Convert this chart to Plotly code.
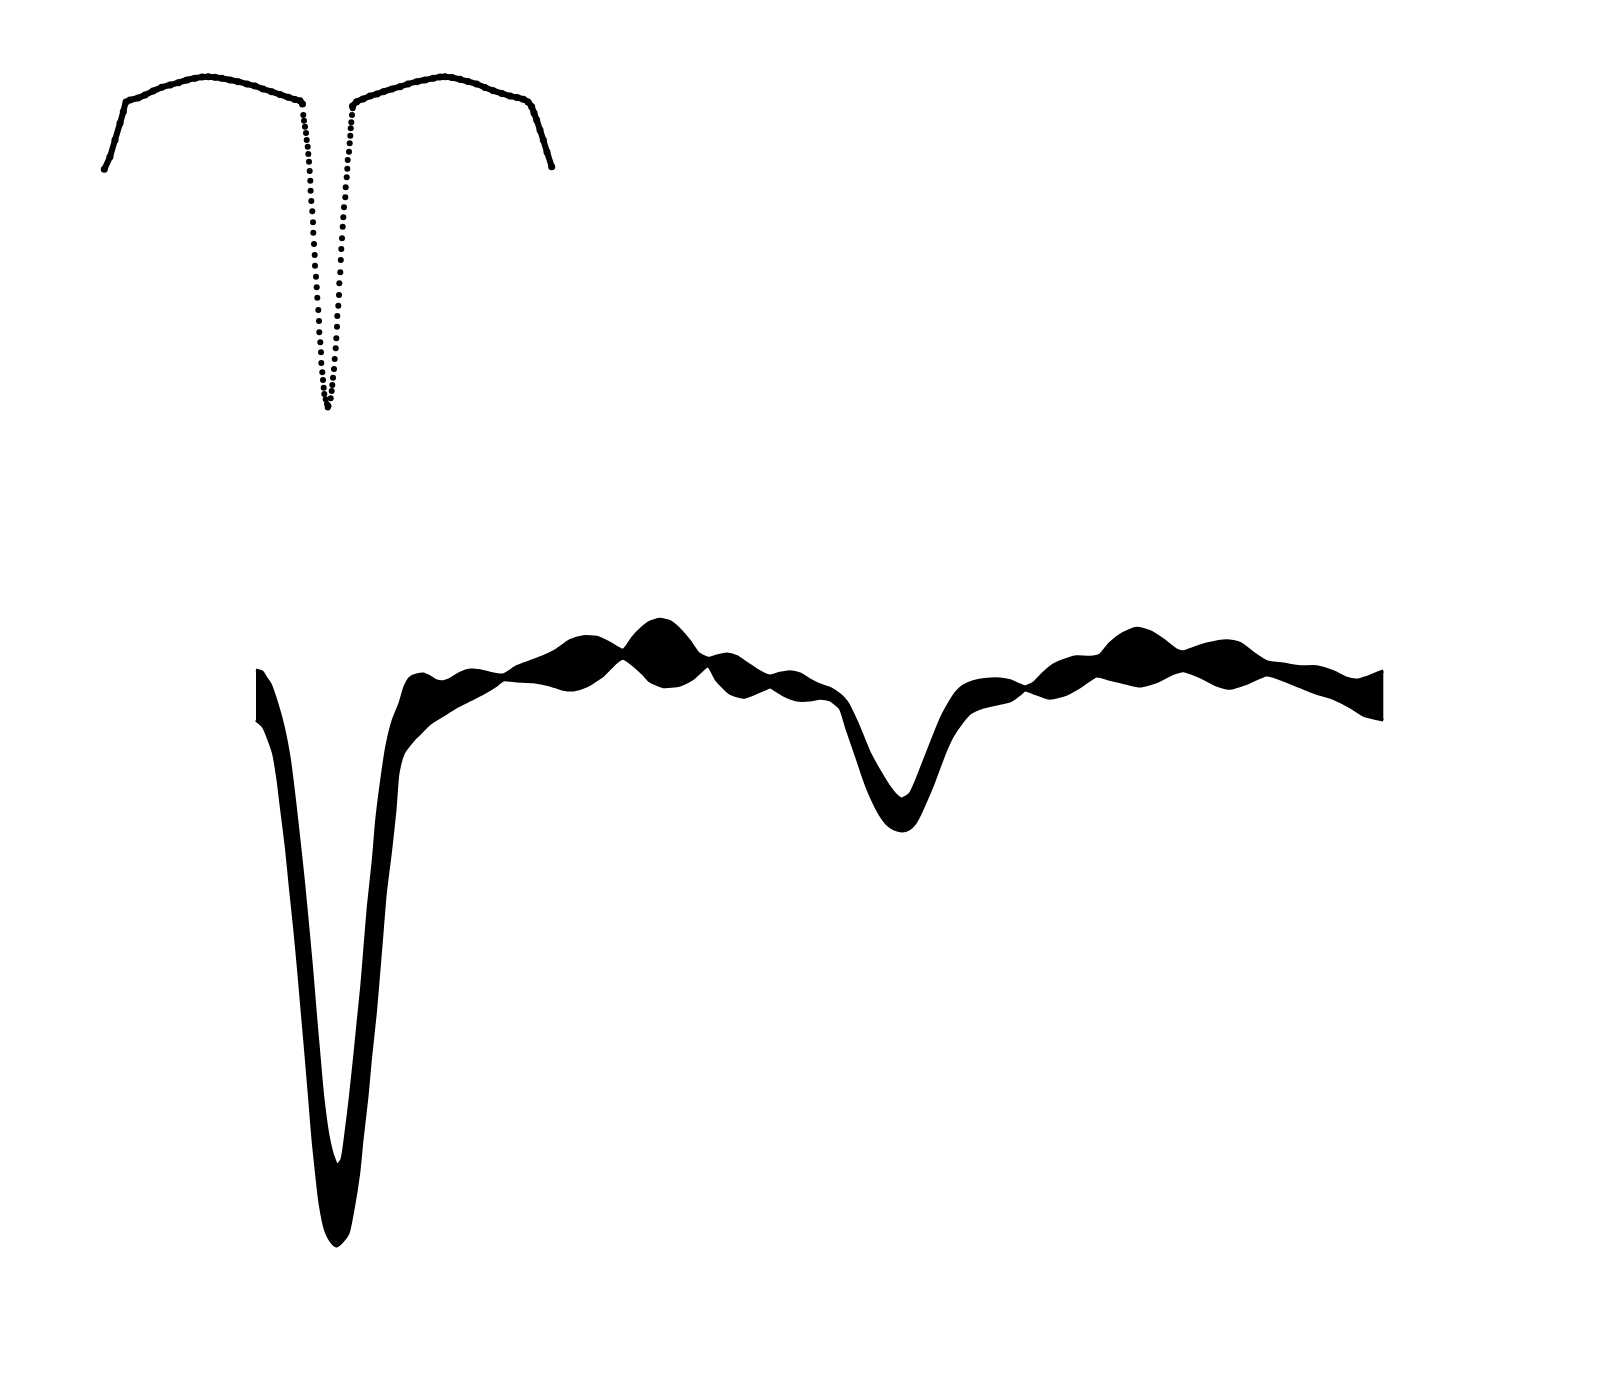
import plotly.graph_objects as go

# ---------------- top chart: arcs (dense points, drawn as thick line + beads) ----------------
left_arc_x = [104.3, 110, 115, 120, 123.3, 126, 130, 138, 145, 153, 161.7, 170, 178.3, 187, 195, 202,
              208.3, 215, 221.7, 230, 238.3, 247, 255, 263, 271.7, 280, 288.3, 295, 300, 302.5]
left_arc_y = [169.3, 156.7, 140, 123.3, 111.7, 102, 100, 98, 95, 91, 87.3, 85, 82.7, 80, 78.3, 77,
              76.7, 77.3, 78.3, 80, 81.7, 84, 86, 89, 91.7, 94.5, 97.3, 99.5, 100.7, 104]

right_arc_x = [352.5, 356.7, 363, 370, 377, 383.3, 392, 400, 408, 416.7, 425, 433.3, 440, 445, 452, 460,
               468, 476.7, 485, 493.3, 502, 510, 517, 523.3, 528, 531.7, 534, 536.7, 540, 543.3, 547, 551.7]
right_arc_y = [106, 101.7, 99, 96, 94, 91.7, 89, 86.7, 84, 81.7, 80, 78.3, 77, 76.7, 77.5, 79.3,
               81.5, 84, 87.5, 90.7, 93.5, 96, 97.5, 99.3, 102, 106.7, 113, 120, 130, 140, 152, 166.7]

# ---------------- top chart: separated points in the dip ----------------
dip_x = [303.3, 304, 305, 306, 306.7, 307.7, 308.3, 309, 309.7, 310.3, 310.6, 311.3, 312.3, 313, 313.3,
         314, 314.7, 315, 316, 316.7, 317.3, 318.3, 319, 319.3, 320.3, 321, 321.3, 322.3, 323, 323.7,
         324.3, 325.7, 327, 327.7,
         328.5, 330.7, 331.7, 332.3, 333, 334, 334.7, 335.7, 336.3, 337, 337.3, 338.3, 339, 339.3,
         340.3, 340.8, 341.3, 342, 342.7, 343.3, 344, 345.3, 345.7, 346.7, 347.3, 347.7, 349, 349.7,
         350.3, 350.7, 351.3, 352, 352.7]
dip_y = [115, 120.7, 126.7, 133, 140, 146.7, 154, 161.7, 171, 180.7, 190.7, 201, 211.3, 222.3, 232.7,
         244, 255, 265.7, 276.7, 287.3, 297.7, 310, 321, 332.3, 342.3, 352.3, 363, 372.3, 380, 387.7,
         394, 399.3, 404, 407.5,
         406, 398.3, 391, 385, 377.7, 369, 359, 348.3, 338.3, 326.7, 316, 305.7, 295, 283.3,
         272.3, 260, 249, 238.3, 226.7, 217.3, 207.3, 197.3, 187.3, 177.3, 168.7, 160, 151.7, 143.3,
         135.7, 128.3, 122.3, 115, 108.3]

# ---------------- bottom chart: upper / lower envelope of the oscillating signal ----------------
upper_x = [256, 262, 266, 270, 276.7, 283.3, 289.5, 294.5, 299, 303.3, 307.8, 311.5, 315.3, 318.8, 322.8,
           328.3, 333.3, 337.3, 341.7, 346.7, 350, 355, 358.3, 361.7, 365, 368.3, 373.3, 376.7, 381.7,
           386.7, 393.3, 400, 405, 410, 416.7, 423.3, 430, 436.7, 443.3, 450, 460, 470, 480, 490, 503.3,
           516.7, 530, 543.3, 556.7, 570, 583.3, 596.7, 610, 623.3, 633.3, 643.3, 650, 660, 670, 680,
           690, 698.3, 708.3, 716.7, 726.7, 736.7, 746.7, 756.7, 770, 780, 790, 800, 810, 820, 830, 840,
           846.7, 856.7, 863.3, 870, 880, 890, 896.7, 901.7, 910, 916.7, 923.3, 930, 936.7, 943.3, 950,
           956.7, 963.3, 973.3, 986.7, 1000, 1010, 1020, 1025, 1033.3, 1043.3, 1053.3, 1066.7, 1076.7,
           1090, 1100, 1110, 1123.3, 1136.7, 1150, 1163.3, 1176.7, 1183.3, 1193.3, 1206.7, 1226.7, 1240,
           1253.3, 1266.7, 1283.3, 1300, 1316.7, 1333.3, 1346.7, 1356.7, 1366.7, 1376.7, 1383.3]
upper_y = [670, 672, 678, 684, 703, 727, 760, 800, 840, 880, 927, 967, 1013, 1053, 1097,
           1137, 1157, 1165, 1160, 1126.7, 1100, 1053.3, 1020, 986.7, 946.7, 906.7, 860, 820, 780,
           746.7, 720, 703.3, 686.7, 678, 675, 674, 677, 681, 681.7, 679.3, 673.3, 670, 670.7, 673.3, 675,
           666.7, 661.7, 656.7, 650, 640.7, 636.7, 637.3, 643.3, 650, 637, 627, 622, 619.3, 621.7, 630,
           641.7, 653.3, 658.3, 656, 654, 656.7, 663.3, 670, 676, 673.3, 671.7, 674, 680, 685, 688.3, 695,
           702, 722, 738, 754, 772, 788, 796, 799, 794, 780, 763, 746, 729, 714, 702,
           692, 686, 681.7, 679.3, 679, 680.7, 685, 686.7, 683.3, 673.3, 665, 659.3, 656.7,
           657.3, 655, 643.3, 633.3, 628.3, 631.7, 640, 650, 651.7, 648.3, 644, 640.7, 643.3,
           653.3, 661.7, 664, 666.7, 666.7, 671.7, 678.3, 680, 677.3, 673.3, 671]

lower_x = [256, 263.3, 273.5, 278, 281.3, 286.3, 290.3, 294.5, 298.3, 302.3, 305.8, 309.5, 313, 316.5, 320,
           325.5, 331.7, 336.7, 341.7, 348, 353.5, 358.7, 362, 367, 370.3, 375.3, 378.7, 382, 385.3,
           390.3, 395, 398, 403.3, 413.3, 420, 430, 443.3, 456.7, 470, 483.3, 496.7, 503.3, 516.7,
           533.3, 550, 563.3, 573.3, 586.7, 603.3, 616.7, 623.3, 633.3, 643.3, 650, 663.3, 680, 693.3,
           708, 716.7, 730, 743.3, 755, 766.7, 770, 783.3, 796.7, 810, 820, 830, 840, 847, 857, 863.7,
           869, 875, 881, 887, 894, 901.7, 909, 915, 920.5, 926.3, 933, 939.7, 946.3, 952.5, 962, 970,
           983.3, 996.7, 1010, 1020, 1025, 1033.3, 1050, 1066.7, 1080, 1096.7, 1110, 1126.7, 1140, 1156.7,
           1173.3, 1183.3, 1200, 1216.7, 1230, 1246.7, 1266.7, 1283.3, 1300, 1316.7, 1333.3, 1350,
           1363.3, 1383.3]
lower_y = [720, 726.7, 753.3, 780, 807, 847, 887, 927, 967, 1013, 1053, 1097, 1140, 1173.3,
           1203.3, 1230, 1242, 1246, 1242, 1233.3, 1206.7, 1173.3, 1140, 1096.7, 1060, 1013.3, 973.3,
           933.3, 893.3, 853.3, 810, 773.3, 753.3, 740, 733.3, 723.3, 715, 706.7, 700, 693.3, 685, 680,
           681, 681.7, 685, 689.3, 690, 686, 675, 661.7, 658.3, 665, 674, 681, 686.7, 685, 678.3,
           666, 680, 693.3, 697.3, 693.3, 688.3, 687, 695, 700, 700, 698.3, 700, 708, 729, 758, 778,
           792, 805, 816, 824, 829, 831, 829, 823, 813, 800, 784, 766, 749, 736, 722, 713,
           707, 704, 701, 694, 690, 692.7, 698.3, 694, 686.7, 676, 679.3, 683.3, 686, 681.7,
           673.3, 670.7, 676.7, 685, 688.3, 683.3, 675, 680, 686.7, 693.3, 698.3, 706.7,
           715, 720]

fig = go.Figure()

# bottom band: upper envelope, then lower envelope filled to it
fig.add_trace(go.Scatter(x=upper_x, y=upper_y, mode="lines",
                         line=dict(color="black", width=3, shape="spline", smoothing=0.6),
                         hoverinfo="skip", showlegend=False))
fig.add_trace(go.Scatter(x=lower_x, y=lower_y, mode="lines",
                         line=dict(color="black", width=3, shape="spline", smoothing=0.6),
                         fill="tonexty", fillcolor="black",
                         hoverinfo="skip", showlegend=False))

# top chart
for ax, ay in ((left_arc_x, left_arc_y), (right_arc_x, right_arc_y)):
    fig.add_trace(go.Scatter(x=ax, y=ay, mode="lines+markers",
                             line=dict(color="black", width=6, shape="spline", smoothing=0.5),
                             marker=dict(color="black", size=7, line=dict(width=0)),
                             hoverinfo="skip", showlegend=False))
fig.add_trace(go.Scatter(x=dip_x, y=dip_y, mode="markers",
                         marker=dict(color="black", size=6, line=dict(width=0)),
                         hoverinfo="skip", showlegend=False))

fig.update_layout(
    width=1600, height=1380,
    margin=dict(l=0, r=0, t=0, b=0),
    paper_bgcolor="white", plot_bgcolor="white",
    xaxis=dict(range=[0, 1600], visible=False, fixedrange=True),
    yaxis=dict(range=[1380, 0], visible=False, fixedrange=True),
    showlegend=False,
)

fig.write_html("out.html")
